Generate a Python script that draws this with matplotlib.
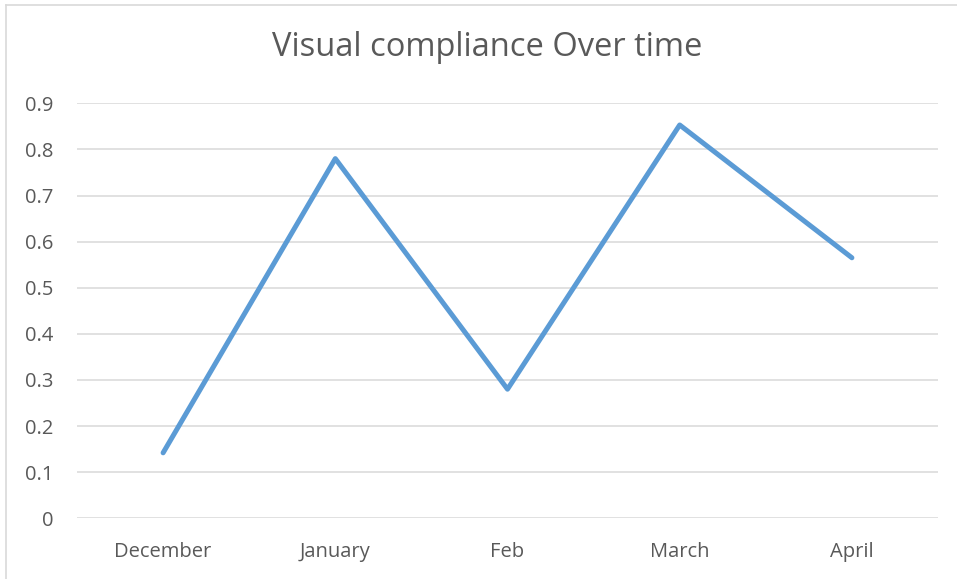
import matplotlib
matplotlib.use("Agg")
import matplotlib.pyplot as plt
from matplotlib.lines import Line2D

categories = ["December", "January", "Feb", "March", "April"]
values = [0.142, 0.78, 0.28, 0.853, 0.565]
yticks = [0, 0.1, 0.2, 0.3, 0.4, 0.5, 0.6, 0.7, 0.8, 0.9]
ytick_labels = ["0", "0.1", "0.2", "0.3", "0.4", "0.5", "0.6", "0.7", "0.8", "0.9"]
title = "Visual compliance Over time"

plt.rcParams['font.family'] = ['Open Sans', 'DejaVu Sans']

W, H = 957, 579
fig = plt.figure(figsize=(W / 100, H / 100), dpi=100)
ax = fig.add_axes([77 / W, (H - 518.3) / H, (938 - 77) / W, (518.3 - 103.3) / H])

x = list(range(len(categories)))
ax.plot(x, values, color="#5B9BD5", linewidth=3.6, solid_joinstyle="round", solid_capstyle="round", zorder=3)

ax.set_xlim(-0.5, len(categories) - 0.5)
ax.set_ylim(0, 0.9)
ax.set_yticks(yticks)
ax.set_yticklabels(ytick_labels)
ax.set_xticks(x)
ax.set_xticklabels(categories)
ax.yaxis.grid(True, color="#D9D9D9", linewidth=1.1)
ax.set_axisbelow(True)
for s in ax.spines.values():
    s.set_visible(False)
ax.tick_params(axis="both", length=0, labelsize=14.5, colors="#595959")
ax.tick_params(axis="y", pad=17)
ax.tick_params(axis="x", pad=17)

fig.text(487 / W, 1 - 48 / H, title, ha="center", va="center", fontsize=23.5, color="#595959")

# chart border (top and left visible)
fig.add_artist(Line2D([6 / W, 6 / W], [0, 1 - 4.5 / H], transform=fig.transFigure, color="#D9D9D9", linewidth=1.2))
fig.add_artist(Line2D([6 / W, 1], [1 - 4.5 / H, 1 - 4.5 / H], transform=fig.transFigure, color="#D9D9D9", linewidth=1.2))

fig.savefig("out.png", dpi=100)
